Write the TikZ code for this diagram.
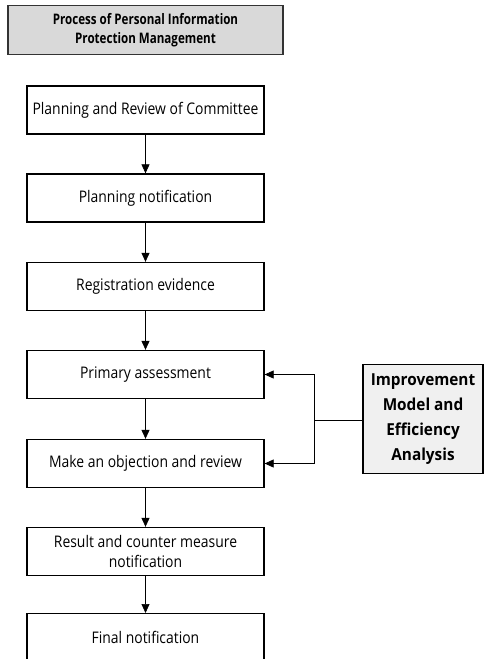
\documentclass[tikz,border=0pt]{standalone}
\usepackage{fontspec}
\setmainfont{Open Sans}
\newfontfamily\bodyfont[FakeStretch=0.87]{Open Sans}
\newfontfamily\titlefont[FakeStretch=0.8]{Open Sans}
\newfontfamily\sidefont[FakeStretch=0.93]{Open Sans}
\usetikzlibrary{arrows.meta}
\definecolor{titlegray}{HTML}{D9D9D9}
\definecolor{sidegray}{HTML}{F0F0F0}
\begin{document}
\begin{tikzpicture}[x=1pt,y=-1pt,
  stepbox/.style={draw=black,line width=1.3pt,fill=white,minimum width=237pt,minimum height=48pt,inner sep=0pt,align=center,font=\bodyfont\fontsize{16}{20}\selectfont},
  titlebox/.style={draw=black!80,line width=1.5pt,fill=titlegray,minimum width=275pt,minimum height=49pt,inner sep=0pt,align=center,font=\titlefont\bfseries\fontsize{14.5}{19.5}\selectfont},
  sidebox/.style={draw=black,line width=1.3pt,fill=sidegray,minimum width=120pt,minimum height=109pt,inner sep=0pt,align=center,font=\sidefont\bfseries\fontsize{16.5}{25}\selectfont},
  flow/.style={line width=0.7pt,-{Triangle[length=9pt,width=8pt]}}]
\useasboundingbox (0,0) rectangle (484,659);
\clip (0,0) rectangle (484,659);
\node[titlebox] (title) at (145.5,30) {Process of Personal Information\\Protection Management};
\node[stepbox] (s1) at (145.5,110) {Planning and Review of Committee};
\node[stepbox] (s2) at (145.5,198) {Planning notification};
\node[stepbox] (s3) at (145.5,286.5) {Registration evidence};
\node[stepbox] (s4) at (145.5,374.5) {Primary assessment};
\node[stepbox] (s5) at (145.5,463.5) {Make an objection and review};
\node[stepbox] (s6) at (145.5,551.5) {Result and counter measure\\notification};
\node[stepbox,minimum height=60pt,anchor=north] (s7) at (145.5,613) {};
\node[font=\bodyfont\fontsize{16}{20}\selectfont] (s7t) at (145.5,637) {Final notification};
\node[sidebox] (side) at (423,419) {Improvement\\Model and\\Efficiency\\Analysis};
\coordinate (j) at (314,420);
\draw[flow] (s1) -- (s2);
\draw[flow] (s2) -- (s3);
\draw[flow] (s3) -- (s4);
\draw[flow] (s4) -- (s5);
\draw[flow] (s5) -- (s6);
\draw[flow] (s6) -- (s7);
\draw[line width=0.7pt] (side.west |- j) -- (j);
\draw[flow] (j) |- (s4.east);
\draw[flow] (j) |- (s5.east);
\end{tikzpicture}
\end{document}
